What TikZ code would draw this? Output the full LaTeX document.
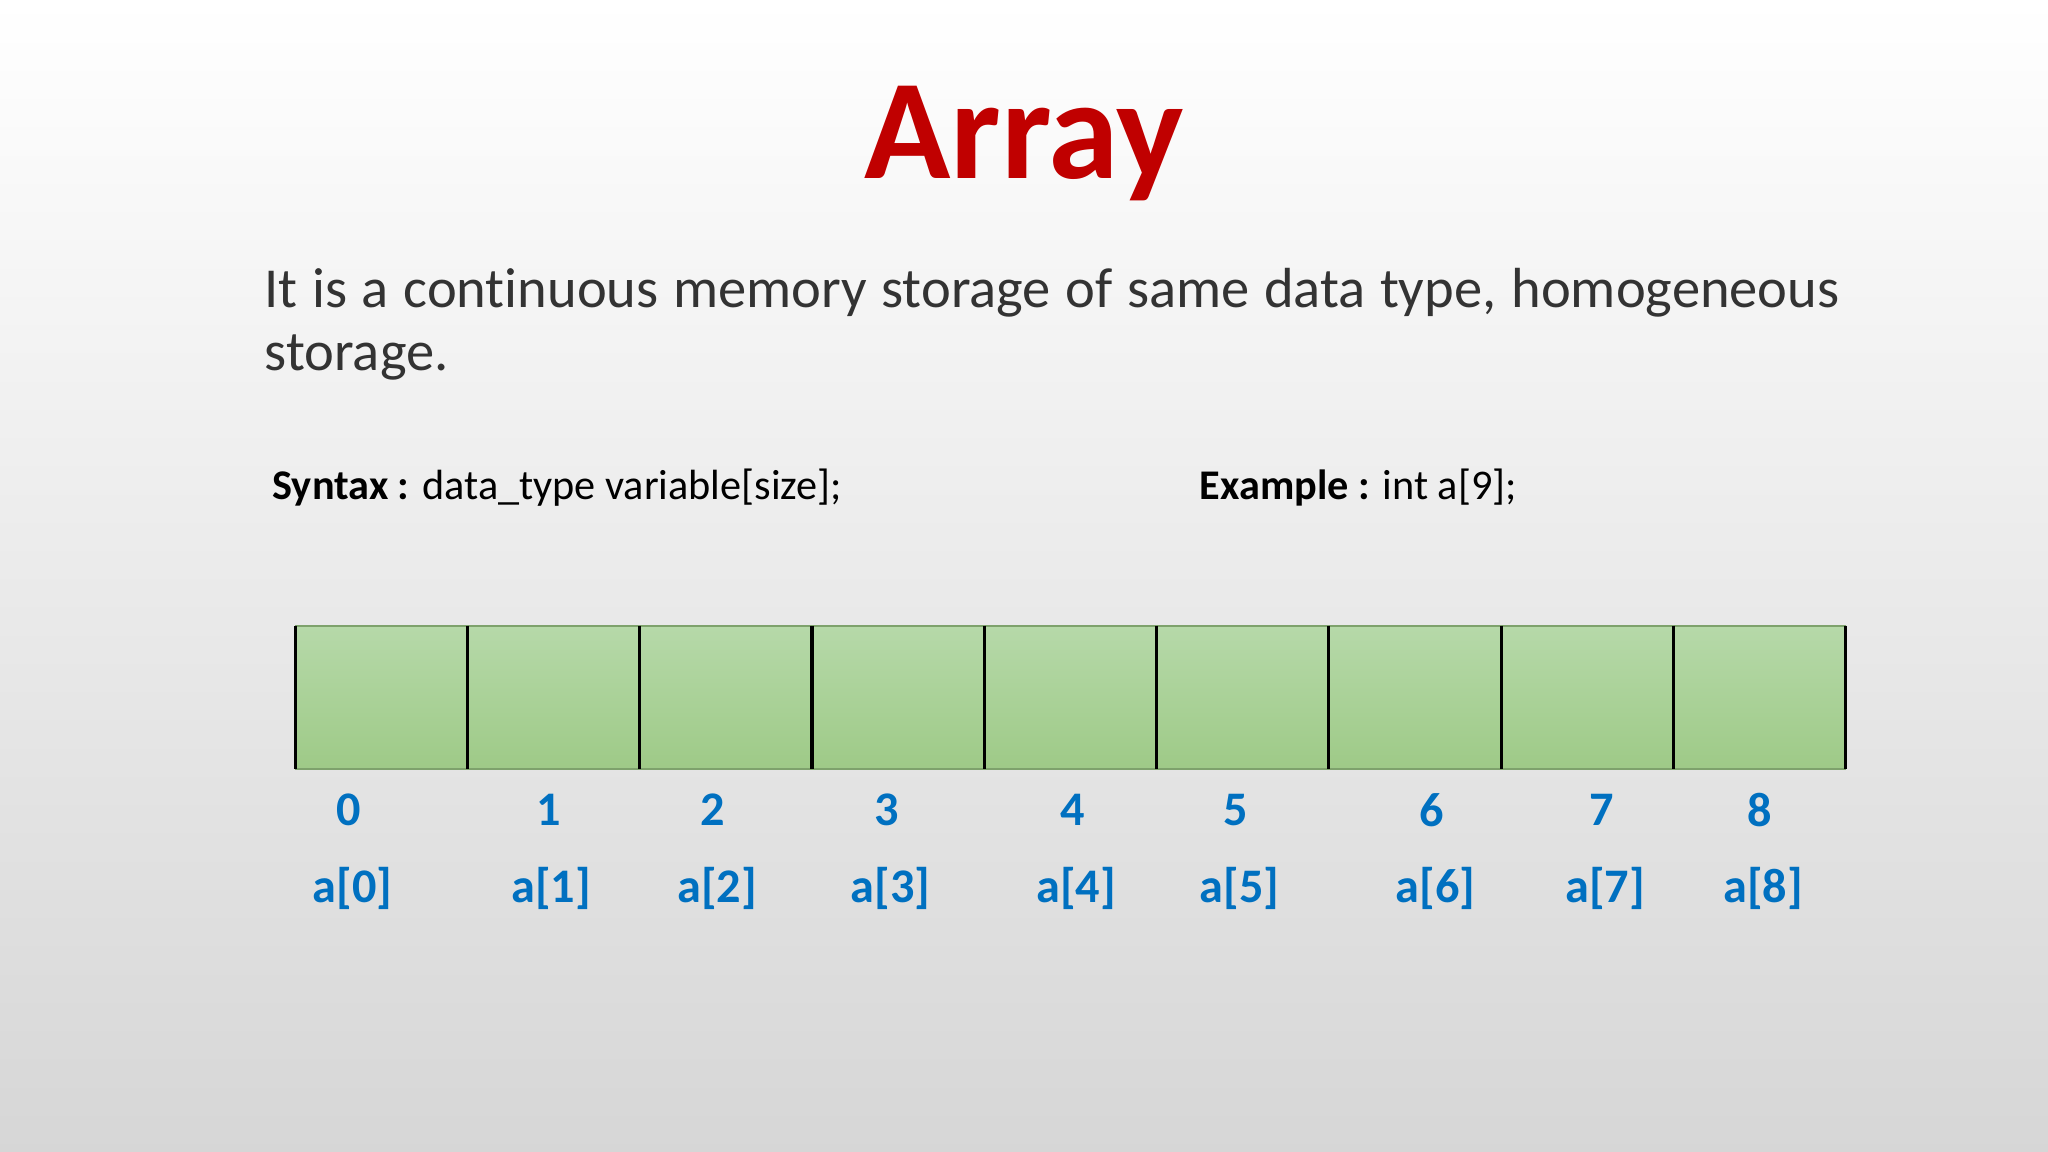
\documentclass[tikz,border=0pt]{standalone}
\usepackage{fontspec}
\setmainfont{Carlito}[RawFeature=-liga]
\usetikzlibrary{positioning}
\definecolor{ttl}{HTML}{C00000}
\definecolor{idx}{HTML}{0070C0}
\definecolor{gtop}{HTML}{B6D9A9}
\definecolor{gbot}{HTML}{9ECA87}
\tikzset{cellbox/.style={minimum width=1.319cm,minimum height=1.1cm,inner sep=0,outer sep=0},
lbl/.style={text=idx,font=\fontsize{10.5}{12}\selectfont\bfseries}}
\begin{document}
\begin{tikzpicture}[x=0.01cm,y=-0.01cm]
\useasboundingbox (0,0) rectangle (1568,882);
\shade[top color=white,bottom color=black!16] (0,0) rectangle (1568,882);
\node[text=ttl,font=\fontsize{31}{34}\selectfont\bfseries] (title) at (784,110) {Array};
\node[anchor=north west,text width=12.05cm,align=justify,inner sep=0,font=\fontsize{12.3}{13.7}\selectfont,text=black!80] (para) at (202,205) {It is a continuous memory storage of same data type, homogeneous\linebreak storage.};
\node[anchor=west,inner sep=0,font=\fontsize{9.2}{10}\selectfont] (syn) at (208,373) {\textbf{Syntax :} data\_type variable[size];};
\node[anchor=west,inner sep=0,font=\fontsize{9.2}{10}\selectfont] (ex) at (918,373) {\textbf{Example :} int a[9];};
\shade[top color=gtop,bottom color=gbot] (226,479) rectangle (1413,589);
\draw[draw=gbot!80!black,line width=0.4pt] (226,479) -- (1413,479) (226,589) -- (1413,589);
\foreach \i in {0,...,8}{
  \node[cellbox,anchor=north west] (c\i) at ({226+131.9*\i},479) {};
  \draw[line width=0.7pt] (c\i.north west) -- (c\i.south west);
}
\draw[line width=0.7pt] (c8.north east) -- (c8.south east);
\foreach \i/\x/\y in {0/267/270,1/420/422,2/546/549,3/679/682,4/821/824,5/946/949,6/1096/1099,7/1226/1229,8/1347/1350}{
  \node[lbl] (n\i) at (\x,620) {\i};
  \node[lbl] (a\i) at (\y,680) {a[\i]};
}
\end{tikzpicture}
\end{document}
